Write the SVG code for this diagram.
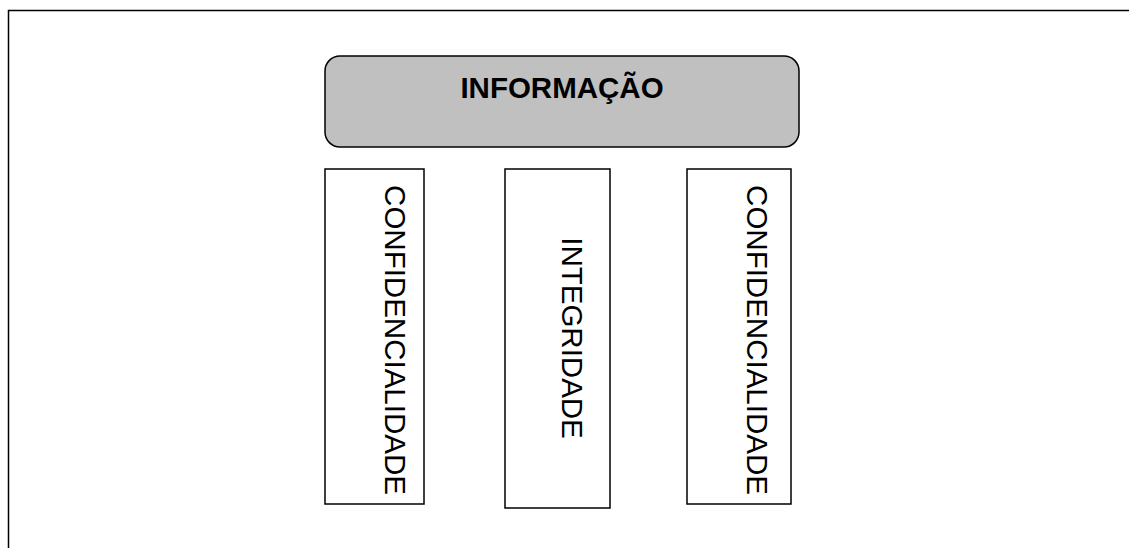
<svg xmlns="http://www.w3.org/2000/svg" width="1129" height="548" viewBox="0 0 1129 548">
  <style>
    .frame { fill: none; stroke: #000; stroke-width: 1.5; }
    .box { fill: #ffffff; stroke: #000; stroke-width: 1.5; }
    .head { fill: #c0c0c0; stroke: #000; stroke-width: 1.5; }
    .lbl { font-family: "Liberation Sans", Arial, sans-serif; font-size: 29.5px; fill: #000; }
    .bold { font-weight: bold; }
  </style>
  <rect width="1129" height="548" fill="#ffffff"/>
  <rect class="frame" x="8.5" y="10.5" width="1200" height="600"/>
  <g id="informacao">
    <rect class="head" x="325" y="56" width="474" height="91" rx="15" ry="15"/>
    <text class="lbl bold" x="562" y="98" text-anchor="middle">INFORMAÇÃO</text>
  </g>
  <g id="confidencialidade-1">
    <rect class="box" x="325" y="169" width="99" height="335"/>
    <text class="lbl" x="385" y="340" text-anchor="middle" transform="rotate(90 385 340)">CONFIDENCIALIDADE</text>
  </g>
  <g id="integridade">
    <rect class="box" x="505" y="169" width="105" height="339"/>
    <text class="lbl" x="562" y="338" text-anchor="middle" transform="rotate(90 562 338)">INTEGRIDADE</text>
  </g>
  <g id="confidencialidade-2">
    <rect class="box" x="687" y="169" width="104" height="335"/>
    <text class="lbl" x="747" y="340" text-anchor="middle" transform="rotate(90 747 340)">CONFIDENCIALIDADE</text>
  </g>
  <g id="connectors"></g>
</svg>
